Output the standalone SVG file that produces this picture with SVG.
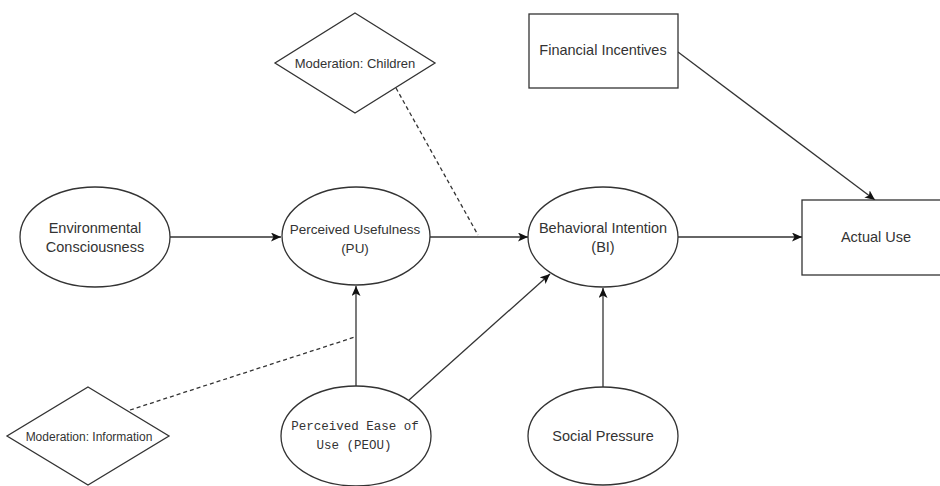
<svg xmlns="http://www.w3.org/2000/svg" width="940" height="486" viewBox="0 0 940 486">
<style>
.shape{fill:#fff;stroke:#333;stroke-width:1.3}
.t{font-family:"Liberation Sans",Arial,sans-serif;font-size:14.5px;fill:#333;text-anchor:middle;dominant-baseline:central}
.s{font-size:13.5px}
.m{font-family:"Liberation Mono","DejaVu Sans Mono",monospace;font-size:12.5px}
.c{fill:none;stroke:#333;stroke-width:1.3}
.d{stroke-dasharray:4 3}
</style>
<defs>
<marker id="arr" markerUnits="userSpaceOnUse" markerWidth="12" markerHeight="10" refX="10" refY="4.5" orient="auto">
<path d="M0,0 L10,4.5 L0,9 L2.5,4.5 z" fill="#111"/>
</marker>
</defs>
<rect width="940" height="486" fill="#fff"/>
<g id="connectors">
<line class="c" x1="170" y1="237" x2="281" y2="237" marker-end="url(#arr)"/>
<line class="c" x1="430" y1="237" x2="528" y2="237" marker-end="url(#arr)"/>
<line class="c" x1="678" y1="237" x2="802" y2="237" marker-end="url(#arr)"/>
<line class="c" x1="678" y1="52" x2="875" y2="200" marker-end="url(#arr)"/>
<line class="c" x1="356" y1="386" x2="356" y2="286" marker-end="url(#arr)"/>
<line class="c" x1="409" y1="400" x2="550" y2="274" marker-end="url(#arr)"/>
<line class="c" x1="603" y1="387" x2="603" y2="288" marker-end="url(#arr)"/>
<line class="c d" x1="396" y1="88" x2="478" y2="235"/>
<line class="c d" x1="130" y1="410" x2="355" y2="337"/>
</g>
<g id="env">
<ellipse class="shape" cx="95" cy="237" rx="75" ry="50"/>
<text class="t" x="95" y="228">Environmental</text>
<text class="t" x="95" y="247">Consciousness</text>
</g>
<g id="pu">
<ellipse class="shape" cx="356" cy="236" rx="74" ry="49"/>
<text class="t s" x="355" y="229">Perceived Usefulness</text>
<text class="t s" x="355" y="248">(PU)</text>
</g>
<g id="bi">
<ellipse class="shape" cx="603" cy="237" rx="75" ry="50"/>
<text class="t" x="603" y="228">Behavioral Intention</text>
<text class="t" x="603" y="247">(BI)</text>
</g>
<g id="fi">
<rect class="shape" x="529" y="14" width="149" height="74"/>
<text class="t" x="603" y="50">Financial Incentives</text>
</g>
<g id="au">
<rect class="shape" x="802" y="200" width="150" height="75"/>
<text class="t" x="876" y="237">Actual Use</text>
</g>
<g id="children">
<polygon class="shape" points="355,13 435,63 355,113 275,63"/>
<text class="t" x="355" y="63" style="font-size:13px">Moderation: Children</text>
</g>
<g id="info">
<polygon class="shape" points="88,387 169,436 88,485 7,436"/>
<text class="t" x="89" y="437" style="font-size:12px">Moderation: Information</text>
</g>
<g id="peou">
<ellipse class="shape" cx="356" cy="436" rx="75" ry="50"/>
<text class="t m" x="355" y="427">Perceived Ease of</text>
<text class="t m" x="354" y="446">Use (PEOU)</text>
</g>
<g id="sp">
<ellipse class="shape" cx="603" cy="436" rx="75" ry="49"/>
<text class="t" x="603" y="436">Social Pressure</text>
</g>
</svg>
